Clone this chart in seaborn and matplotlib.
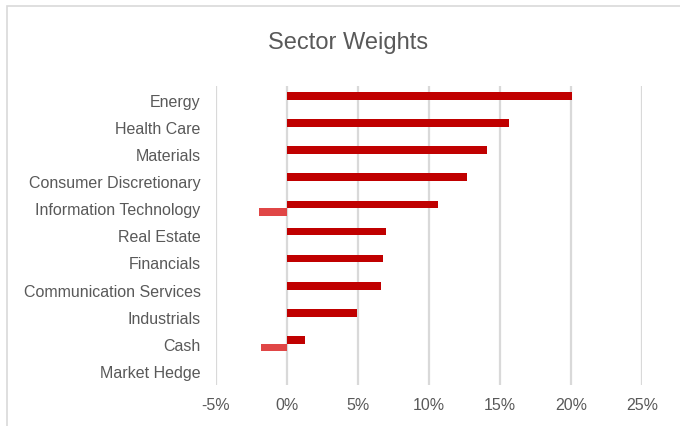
import pandas as pd
import matplotlib.pyplot as plt
import matplotlib.patches as mpatches
import seaborn as sns

# --- Data ---
sectors = ['Energy', 'Health Care', 'Materials', 'Consumer Discretionary',
           'Information Technology', 'Real Estate', 'Financials',
           'Communication Services', 'Industrials', 'Cash', 'Market Hedge']
long_weights = [20.1, 15.6, 14.1, 12.7, 10.6, 6.95, 6.75, 6.6, 4.93, 1.27, 0.0]
short_weights = [0.0, 0.0, 0.0, 0.0, -1.95, 0.0, 0.0, 0.0, 0.0, -1.83, 0.0]
series_names = ['Long', 'Short']
xticks = [-5, 0, 5, 10, 15, 20, 25]
xtick_labels = ['-5%', '0%', '5%', '10%', '15%', '20%', '25%']

df = pd.DataFrame({
    'sector': sectors * 2,
    'series': [series_names[0]] * len(sectors) + [series_names[1]] * len(sectors),
    'weight': long_weights + short_weights,
})

sns.set_style('white')
plt.rcParams['font.family'] = ['Liberation Sans', 'DejaVu Sans']

fig = plt.figure(figsize=(6.8, 4.27), dpi=100)
ax = fig.add_axes([216 / 680, 1 - 385.5 / 427, (642 - 216) / 680, (385.5 - 87) / 427])

sns.barplot(data=df, y='sector', x='weight', hue='series', order=sectors,
            hue_order=series_names, palette=['#C00000', '#E04646'],
            saturation=1, linewidth=0, orient='h', width=0.56, dodge=True,
            legend=False, ax=ax)

ax.set_xlim(-5, 25)
ax.set_ylim(len(sectors) - 0.5, -0.5)
ax.set_xticks(xticks)
ax.set_xticklabels(xtick_labels)
ax.set_xlabel('')
ax.set_ylabel('')
ax.xaxis.grid(True, color='#D9D9D9', lw=1.6)
ax.set_axisbelow(True)
for s in ax.spines.values():
    s.set_visible(False)
ax.tick_params(axis='x', length=0, pad=9, labelsize=11.5, labelcolor='#595959')
ax.tick_params(axis='y', length=0, pad=11, labelsize=11.5, labelcolor='#595959')

fig.text(348 / 680, 1 - 43 / 427, 'Sector Weights', ha='center', va='center',
         fontsize=17, color='#595959')

# chart border (cropped at the right and bottom in the original)
fig.patches.append(mpatches.Rectangle((7 / 680, -0.1), 1.2, 1 - 7 / 427 + 0.1,
                                      transform=fig.transFigure, fill=False,
                                      edgecolor='#D9D9D9', lw=1.2))

fig.savefig('out.png', dpi=100)
